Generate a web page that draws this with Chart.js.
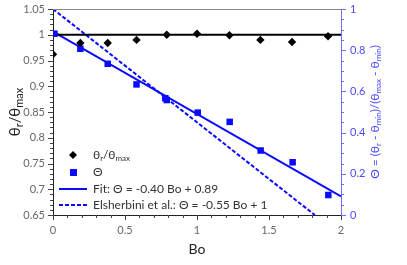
<!DOCTYPE html>
<html>
<head>
<meta charset="utf-8">
<script src="https://cdn.jsdelivr.net/npm/chart.js@4/dist/chart.umd.min.js"></script>
<style>
  html, body { margin: 0; padding: 0; background: #fff; }
  #c { display: block; }
</style>
</head>
<body>
<canvas id="c" width="407" height="265"></canvas>
<script>
// theta_r / theta_max (left axis)
const BO_RATIO = [0, 0.19, 0.38, 0.58, 0.79, 1.0, 1.225, 1.44, 1.66, 1.91];
const RATIO = [0.962, 0.984, 0.984, 0.990, 1.000, 1.002, 0.999, 0.990, 0.986, 0.997];

// normalised Theta (right axis)
const BO_THETA = [0.01, 0.19, 0.38, 0.58, 0.78, 0.79, 1.005, 1.227, 1.442, 1.664, 1.912];
const THETA = [0.88, 0.807, 0.734, 0.634, 0.567, 0.558, 0.497, 0.452, 0.313, 0.256, 0.097];

// reference line theta_r/theta_max = 1
const REF_BO = [0, 2];
const REF_RATIO = [1, 1];

// fit: Theta = -0.40 Bo + 0.89
const FIT_BO = [0, 2];
const FIT_THETA = [0.89, 0.09];

// Elsherbini et al.: Theta = -0.55 Bo + 1
const ELS_BO = [0, 1.818];
const ELS_THETA = [1, 0];

const FONT = 'Lato, "DejaVu Sans", sans-serif';
const BLUE = '#0a0aff';
const AXIS_BLUE = '#6f6fff';

const pts = (xs, ys) => xs.map((x, i) => ({ x, y: ys[i] }));

// text with subscripts: runs = [[text, isSub], ...]
function richWidth(ctx, runs, size) {
  let w = 0;
  runs.forEach(([t, sub]) => {
    ctx.font = `${sub ? Math.round(size * 0.7) : size}px ${FONT}`;
    w += ctx.measureText(t).width;
  });
  return w;
}

function drawRich(ctx, runs, x, y, size, color, align) {
  let cx = x;
  if (align === 'center') cx -= richWidth(ctx, runs, size) / 2;
  ctx.fillStyle = color;
  ctx.textBaseline = 'middle';
  ctx.textAlign = 'left';
  runs.forEach(([t, sub]) => {
    const s = sub ? Math.round(size * 0.7) : size;
    ctx.font = `${s}px ${FONT}`;
    ctx.fillText(t, cx, sub ? y + size * 0.3 : y);
    cx += ctx.measureText(t).width;
  });
}

function minorTicks(ctx, scale, min, max, step, every, horizontal, color, side) {
  const n = Math.round((max - min) / step);
  ctx.strokeStyle = color;
  ctx.lineWidth = 1;
  ctx.beginPath();
  for (let i = 0; i <= n; i++) {
    const len = i % every === 0 ? 5 : 3;
    const p = Math.round(scale.getPixelForValue(min + i * step)) + 0.5;
    if (horizontal) {
      ctx.moveTo(p, scale.top);
      ctx.lineTo(p, scale.top + len);
    } else if (side === 'left') {
      ctx.moveTo(scale.right, p);
      ctx.lineTo(scale.right - len, p);
    } else {
      ctx.moveTo(scale.left, p);
      ctx.lineTo(scale.left + len, p);
    }
  }
  ctx.stroke();
}

const decor = {
  id: 'decor',
  afterDraw(chart) {
    const { ctx, chartArea: a, scales } = chart;
    ctx.save();

    // top frame line
    ctx.strokeStyle = '#888';
    ctx.lineWidth = 1;
    ctx.beginPath();
    ctx.moveTo(a.left, Math.round(a.top) + 0.5);
    ctx.lineTo(a.right, Math.round(a.top) + 0.5);
    ctx.stroke();

    minorTicks(ctx, scales.x, 0, 2, 0.1, 5, true, '#444');
    minorTicks(ctx, scales.y, 0.65, 1.05, 0.01, 5, false, '#444', 'left');
    minorTicks(ctx, scales.y2, 0, 1, 0.05, 4, false, AXIS_BLUE, 'right');

    // axis titles
    drawRich(ctx, [['Bo']], (a.left + a.right) / 2, 249, 14, '#222', 'center');

    ctx.save();
    ctx.translate(15, (a.top + a.bottom) / 2);
    ctx.rotate(-Math.PI / 2);
    drawRich(ctx, [['θ'], ['r', 1], ['/θ'], ['max', 1]], 0, 0, 15, '#222', 'center');
    ctx.restore();

    ctx.save();
    ctx.translate(375, (a.top + a.bottom) / 2);
    ctx.rotate(-Math.PI / 2);
    drawRich(ctx, [['Θ = (θ'], ['r', 1], [' - θ'], ['min', 1], [')/(θ'], ['max', 1], [' - θ'], ['min', 1], [')']],
      0, 0, 12, '#4a4aff', 'center');
    ctx.restore();

    // legend
    const lx = 73, tx = 93;
    ctx.fillStyle = '#000';
    ctx.beginPath();
    ctx.moveTo(lx, 151); ctx.lineTo(lx + 4, 155); ctx.lineTo(lx, 159); ctx.lineTo(lx - 4, 155);
    ctx.closePath();
    ctx.fill();
    drawRich(ctx, [['θ'], ['r', 1], ['/θ'], ['max', 1]], tx, 155, 12, '#333');

    ctx.fillStyle = BLUE;
    ctx.fillRect(lx - 3, 169, 7, 7);
    drawRich(ctx, [['Θ']], tx, 172, 12, '#333');

    ctx.strokeStyle = BLUE;
    ctx.lineWidth = 2;
    ctx.beginPath();
    ctx.moveTo(59, 189); ctx.lineTo(87, 189);
    ctx.stroke();
    drawRich(ctx, [['Fit: Θ = -0.40 Bo + 0.89']], tx, 189, 12, '#333');

    ctx.setLineDash([4, 2]);
    ctx.beginPath();
    ctx.moveTo(59, 205); ctx.lineTo(87, 205);
    ctx.stroke();
    ctx.setLineDash([]);
    drawRich(ctx, [['Elsherbini et al.: Θ = -0.55 Bo + 1']], tx, 205, 12, '#333');

    ctx.restore();
  },
};

const fixVertical = (w) => (s) => {
  s.width = w;
  s.paddingTop = 0;
  s.paddingBottom = 0;
};

new Chart(document.getElementById('c'), {
  type: 'scatter',
  data: {
    datasets: [
      {
        label: 'ratio',
        data: pts(BO_RATIO, RATIO),
        yAxisID: 'y',
        pointStyle: 'rectRot',
        pointRadius: 4.2,
        backgroundColor: '#000',
        borderColor: '#000',
        borderWidth: 0,
        clip: 0,
      },
      {
        label: 'theta',
        data: pts(BO_THETA, THETA),
        yAxisID: 'y2',
        pointStyle: 'rect',
        pointRadius: 4.6,
        backgroundColor: BLUE,
        borderColor: BLUE,
        borderWidth: 0,
        clip: 0,
      },
      {
        label: 'ref',
        data: pts(REF_BO, REF_RATIO),
        yAxisID: 'y',
        showLine: true,
        pointRadius: 0,
        borderColor: '#000',
        borderWidth: 2,
        clip: 0,
      },
      {
        label: 'fit',
        data: pts(FIT_BO, FIT_THETA),
        yAxisID: 'y2',
        showLine: true,
        pointRadius: 0,
        borderColor: BLUE,
        borderWidth: 2,
        clip: 0,
      },
      {
        label: 'elsherbini',
        data: pts(ELS_BO, ELS_THETA),
        yAxisID: 'y2',
        showLine: true,
        pointRadius: 0,
        borderColor: BLUE,
        borderWidth: 2,
        borderDash: [4, 2],
        clip: 0,
      },
    ],
  },
  options: {
    responsive: false,
    devicePixelRatio: 1,
    animation: false,
    layout: { padding: { top: 9, left: 0, right: 0, bottom: 0 } },
    plugins: { legend: { display: false }, tooltip: { enabled: false } },
    scales: {
      x: {
        type: 'linear',
        min: 0,
        max: 2,
        afterFit: (s) => { s.height = 50; s.paddingLeft = 0; s.paddingRight = 0; },
        grid: { display: false, drawTicks: false },
        border: { display: true, color: '#222', width: 1 },
        ticks: {
          stepSize: 0.5,
          padding: 9,
          color: '#666',
          font: { family: FONT, size: 11 },
          maxRotation: 0,
          callback: (v) => String(Number(v.toFixed(2))),
        },
      },
      y: {
        type: 'linear',
        position: 'left',
        min: 0.65,
        max: 1.05,
        afterFit: fixVertical(53),
        grid: { display: false, drawTicks: false },
        border: { display: true, color: '#222', width: 1 },
        ticks: {
          stepSize: 0.05,
          padding: 8,
          color: '#666',
          font: { family: FONT, size: 11 },
          callback: (v) => String(Number(v.toFixed(2))),
        },
      },
      y2: {
        type: 'linear',
        position: 'right',
        min: 0,
        max: 1,
        afterFit: fixVertical(66),
        grid: { display: false, drawTicks: false },
        border: { display: true, color: AXIS_BLUE, width: 1 },
        ticks: {
          stepSize: 0.2,
          padding: 9,
          color: '#4a4aff',
          font: { family: FONT, size: 11 },
          callback: (v) => String(Number(v.toFixed(2))),
        },
      },
    },
  },
  plugins: [decor],
});
</script>
</body>
</html>
